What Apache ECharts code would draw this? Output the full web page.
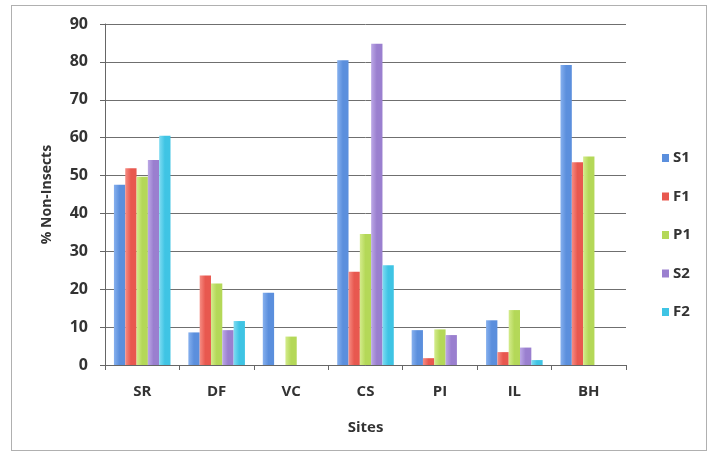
<!DOCTYPE html>
<html>
<head>
<meta charset="utf-8">
<script src="https://cdn.jsdelivr.net/npm/echarts@6/dist/echarts.min.js"></script>
<style>
  html, body { margin: 0; padding: 0; background: #fff; }
  #frame { position: absolute; left: 11px; top: 5px; width: 696px; height: 446px; border: 1px solid #b0b0b0; box-sizing: border-box; }
  #chart { width: 710px; height: 455px; position: absolute; left: 0; top: 0; }
</style>
</head>
<body>
<div id="frame"></div>
<div id="chart"></div>
<script>
// Sampling sites along the x axis
const sites = ['SR', 'DF', 'VC', 'CS', 'PI', 'IL', 'BH'];

// Percentage of non-insect specimens per sampling round
const s1 = [47.6, 8.6, 19.1, 80.4, 9.2, 11.8, 79.2];
const f1 = [51.9, 23.6, 0, 24.6, 1.8, 3.4, 53.5];
const p1 = [49.7, 21.5, 7.5, 34.6, 9.4, 14.5, 55.0];
const s2 = [54.1, 9.2, 0, 84.8, 7.9, 4.6, 0];
const f2 = [60.5, 11.6, 0, 26.3, 0, 1.3, 0];

const yTicks = [0, 10, 20, 30, 40, 50, 60, 70, 80, 90];

const seriesDefs = [
  { name: 'S1', data: s1, base: '#5b8fdd', light: '#86b0ee' },
  { name: 'F1', data: f1, base: '#e8584f', light: '#f68c83' },
  { name: 'P1', data: p1, base: '#b4d858', light: '#d4ec8c' },
  { name: 'S2', data: s2, base: '#9a7fcf', light: '#bca8e6' },
  { name: 'F2', data: f2, base: '#3fc4e4', light: '#7fdcf2' }
];

const font = '"Open Sans", "DejaVu Sans", sans-serif';

function barFill(d) {
  return new echarts.graphic.LinearGradient(0, 0, 1, 0, [
    { offset: 0, color: d.light },
    { offset: 0.5, color: d.base },
    { offset: 1, color: d.base }
  ]);
}

const chart = echarts.init(document.getElementById('chart'), null, { renderer: 'canvas' });

chart.setOption({
  animation: false,
  grid: { left: 105, right: 84, top: 24, bottom: 90 },
  legend: {
    orient: 'vertical',
    right: 14,
    top: 145,
    itemWidth: 7,
    itemHeight: 8,
    itemGap: 22.5,
    icon: 'rect',
    textStyle: { fontFamily: font, fontSize: 15, fontWeight: 'bold', color: '#333', lineHeight: 16, padding: [0, 0, 0, -1] },
    data: seriesDefs.map(d => ({ name: d.name, itemStyle: { color: d.base } }))
  },
  xAxis: {
    type: 'category',
    data: sites,
    name: 'Sites',
    nameLocation: 'middle',
    nameGap: 55,
    nameTextStyle: { fontFamily: font, fontSize: 15, fontWeight: 'bold', color: '#333' },
    axisLine: { lineStyle: { color: '#666', width: 1 } },
    axisTick: { show: true, length: 5, inside: false, lineStyle: { color: '#666' } },
    axisLabel: { fontFamily: font, fontSize: 15, fontWeight: 'bold', color: '#333', margin: 19 },
    splitLine: { show: false }
  },
  yAxis: {
    type: 'value',
    min: yTicks[0],
    max: yTicks[yTicks.length - 1],
    interval: 10,
    name: '% Non-Insects',
    nameLocation: 'middle',
    nameGap: 51,
    nameRotate: 90,
    nameTextStyle: { fontFamily: font, fontSize: 14, fontWeight: 'bold', color: '#333' },
    axisLine: { show: true, lineStyle: { color: '#666', width: 1 } },
    axisTick: { show: true, length: 5, lineStyle: { color: '#666' } },
    axisLabel: { fontFamily: font, fontSize: 16, fontWeight: 'bold', color: '#333', margin: 17 },
    splitLine: { show: true, lineStyle: { color: '#6f6f6f', width: 1 } }
  },
  series: seriesDefs.map(d => ({
    name: d.name,
    type: 'bar',
    data: d.data,
    barGap: '0%',
    barCategoryGap: '24%',
    itemStyle: { color: barFill(d) },
    emphasis: { disabled: true }
  }))
});
</script>
</body>
</html>
